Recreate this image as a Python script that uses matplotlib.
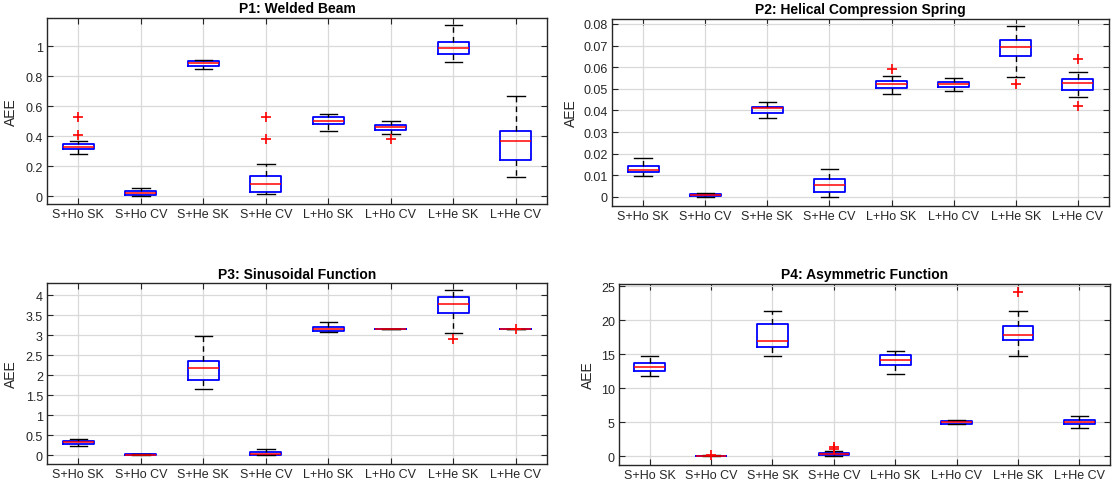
import matplotlib
matplotlib.use("Agg")
import matplotlib.pyplot as plt

plt.rcParams['font.family'] = ['Liberation Sans', 'DejaVu Sans']

categories = ["S+Ho SK", "S+Ho CV", "S+He SK", "S+He CV",
              "L+Ho SK", "L+Ho CV", "L+He SK", "L+He CV"]

# ---- P1: Welded Beam ----
p1_whislo = [0.28, 0.0, 0.845, 0.015, 0.435, 0.415, 0.895, 0.125]
p1_q1     = [0.315, 0.01, 0.868, 0.03, 0.478, 0.44, 0.95, 0.24]
p1_med    = [0.33, 0.022, 0.885, 0.08, 0.5, 0.46, 0.985, 0.368]
p1_q3     = [0.35, 0.035, 0.9, 0.135, 0.525, 0.475, 1.025, 0.433]
p1_whishi = [0.365, 0.055, 0.91, 0.215, 0.545, 0.497, 1.14, 0.67]
p1_fliers = [[0.405, 0.53], [], [], [0.38, 0.53], [], [0.38], [], []]

# ---- P2: Helical Compression Spring ----
p2_whislo = [0.0096, 0.0, 0.0363, 0.0, 0.0475, 0.0489, 0.0556, 0.0464]
p2_q1     = [0.0113, 0.0004, 0.0388, 0.0025, 0.0502, 0.0510, 0.0651, 0.0496]
p2_med    = [0.0126, 0.0008, 0.0409, 0.0057, 0.0522, 0.0522, 0.0693, 0.0525]
p2_q3     = [0.0141, 0.0012, 0.0416, 0.0082, 0.0537, 0.0533, 0.0725, 0.0545]
p2_whishi = [0.0180, 0.0018, 0.0438, 0.0129, 0.0559, 0.0551, 0.0791, 0.0579]
p2_fliers = [[], [], [], [], [0.0593], [], [0.0523], [0.0640, 0.0419]]

# ---- P3: Sinusoidal Function ----
p3_whislo = [0.22, 0.0, 1.64, 0.0, 3.07, 3.14, 3.05, 3.14]
p3_q1     = [0.27, 0.005, 1.88, 0.01, 3.11, 3.14, 3.54, 3.14]
p3_med    = [0.32, 0.01, 2.17, 0.035, 3.16, 3.14, 3.78, 3.14]
p3_q3     = [0.36, 0.02, 2.35, 0.085, 3.21, 3.14, 3.96, 3.14]
p3_whishi = [0.41, 0.035, 2.98, 0.15, 3.32, 3.14, 4.12, 3.14]
p3_fliers = [[], [], [], [], [], [], [2.90], [3.16]]

# ---- P4: Asymmetric Function ----
p4_whislo = [11.76, 0.0, 14.7, 0.0, 12.0, 4.65, 14.66, 4.12]
p4_q1     = [12.5, 0.03, 15.98, 0.1, 13.38, 4.75, 17.0, 4.66]
p4_med    = [13.09, 0.05, 16.9, 0.3, 14.17, 4.95, 17.84, 4.95]
p4_q3     = [13.73, 0.07, 19.36, 0.5, 14.8, 5.15, 19.2, 5.34]
p4_whishi = [14.66, 0.1, 21.27, 0.78, 15.4, 5.34, 21.37, 5.83]
p4_fliers = [[], [0.15], [], [1.1, 1.3], [], [], [24.17], []]

panels = [
    ("P1: Welded Beam", p1_whislo, p1_q1, p1_med, p1_q3, p1_whishi, p1_fliers,
     [0.0422, 0.5808, 0.4484, 0.3804], (-0.053, 1.187),
     [0, 0.2, 0.4, 0.6, 0.8, 1], ["0", "0.2", "0.4", "0.6", "0.8", "1"], -0.058),
    ("P2: Helical Compression Spring", p2_whislo, p2_q1, p2_med, p2_q3, p2_whishi, p2_fliers,
     [0.5489, 0.5767, 0.4457, 0.3824], (-0.0042, 0.0823),
     [0, 0.01, 0.02, 0.03, 0.04, 0.05, 0.06, 0.07, 0.08],
     ["0", "0.01", "0.02", "0.03", "0.04", "0.05", "0.06", "0.07", "0.08"], -0.068),
    ("P3: Sinusoidal Function", p3_whislo, p3_q1, p3_med, p3_q3, p3_whishi, p3_fliers,
     [0.0422, 0.0501, 0.4484, 0.3690], (-0.21, 4.3),
     [0, 0.5, 1, 1.5, 2, 2.5, 3, 3.5, 4], ["0", "0.5", "1", "1.5", "2", "2.5", "3", "3.5", "4"], -0.058),
    ("P4: Asymmetric Function", p4_whislo, p4_q1, p4_med, p4_q3, p4_whishi, p4_fliers,
     [0.5552, 0.0476, 0.4404, 0.3695], (-1.28, 25.3),
     [0, 5, 10, 15, 20, 25], ["0", "5", "10", "15", "20", "25"], -0.049),
]

fig = plt.figure(figsize=(11.15, 4.89), dpi=100)
fig.patch.set_facecolor("white")

frame_col = "#262626"

for (title, wlo, q1, med, q3, whi, fl, rect, ylim, yt, ytl, labx) in panels:
    ax = fig.add_axes(rect)
    stats = []
    for i in range(len(categories)):
        stats.append(dict(label=categories[i], whislo=wlo[i], q1=q1[i], med=med[i],
                          q3=q3[i], whishi=whi[i], fliers=fl[i]))
    ax.bxp(stats, positions=range(1, len(categories) + 1), widths=0.5,
           capwidths=0.28, showfliers=True, patch_artist=False,
           boxprops=dict(color="blue", linewidth=1.3),
           medianprops=dict(color="red", linewidth=1.1),
           whiskerprops=dict(color="black", linestyle=(0, (4, 3)), linewidth=1.0),
           capprops=dict(color="black", linewidth=1.0),
           flierprops=dict(marker="+", markeredgecolor="red", markersize=7,
                           markeredgewidth=1.2, linestyle="none"))
    ax.set_xlim(0.5, len(categories) + 0.5)
    ax.set_ylim(*ylim)
    ax.set_yticks(yt)
    ax.set_yticklabels(ytl)
    ax.set_xticks(range(1, len(categories) + 1))
    ax.set_xticklabels(categories)
    ax.grid(True, color="#d9d9d9", linewidth=0.9)
    ax.set_axisbelow(True)
    ax.tick_params(direction="in", top=True, right=True, length=4,
                   colors=frame_col, labelsize=9, width=0.8, pad=3)
    for s in ax.spines.values():
        s.set_color(frame_col)
        s.set_linewidth(1.0)
    ax.set_title(title, fontsize=10, fontweight="bold", color="black", pad=4)
    ax.set_ylabel("AEE", fontsize=10, color=frame_col)
    ax.yaxis.set_label_coords(labx, 0.5)

fig.savefig("out.png", dpi=100)
